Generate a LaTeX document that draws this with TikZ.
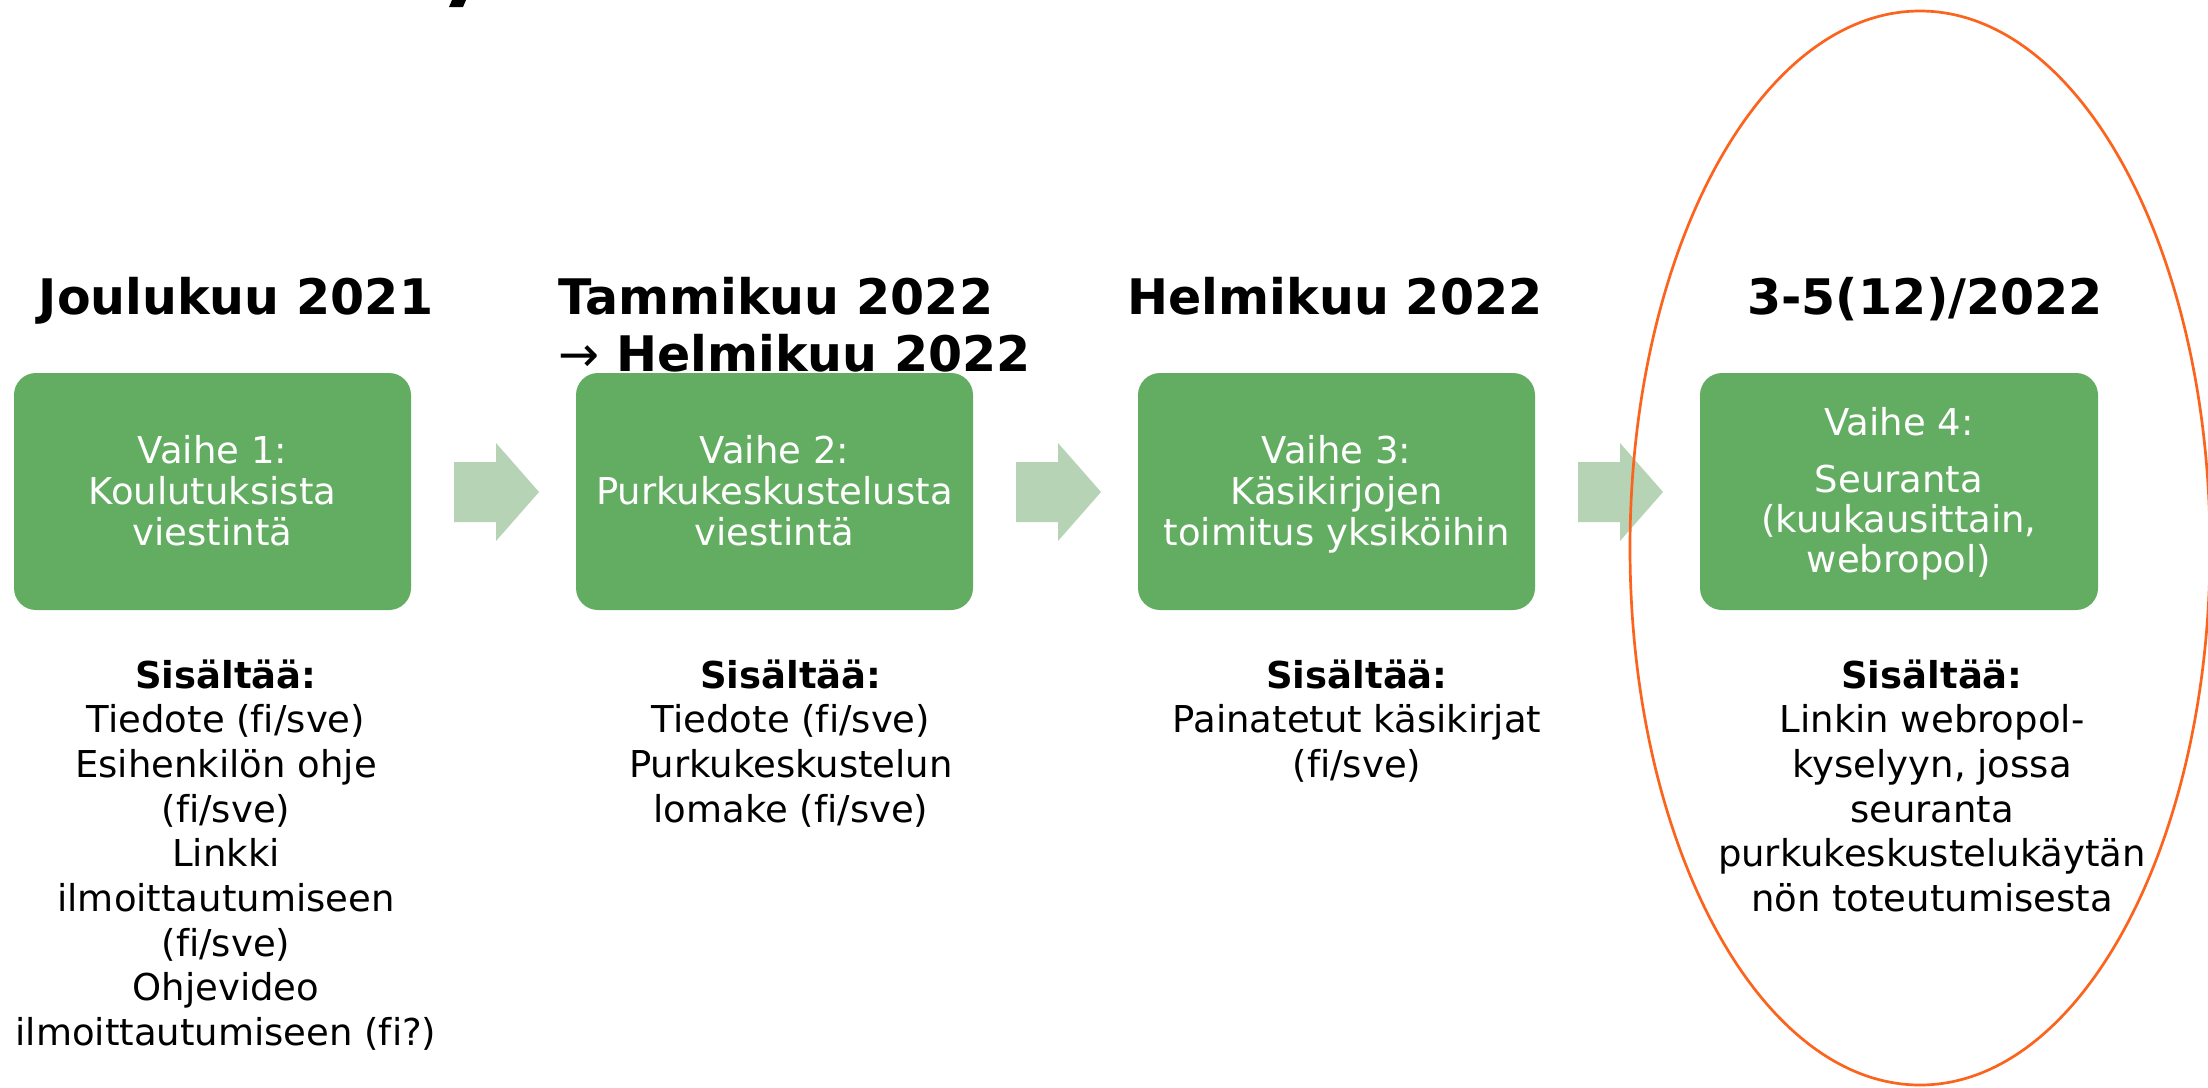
\documentclass[tikz,border=0pt]{standalone}
\usepackage{fontspec}
\setmainfont[Ligatures=NoCommon]{DejaVu Sans}
\definecolor{boxgreen}{RGB}{98,173,97}
\definecolor{arrowgreen}{RGB}{182,211,181}
\definecolor{ringorange}{RGB}{252,100,30}
\newcommand\textlines[6]{%
  \foreach \lineitem [count=\k] in {#6} {\node[#2] (#1-\k) at (#3, #4+#5*\k-#5) {\lineitem};}}
\newcommand\blockarrow[1]{%
  \fill[arrowgreen] (#1,462) -- (#1+42,462) -- (#1+42,443) -- (#1+85,492) -- (#1+42,541) -- (#1+42,522) -- (#1,522) -- cycle;}
\begin{document}
\begin{tikzpicture}[x=1pt,y=-1pt,
  stepbox/.style={fill=boxgreen, draw=none, rounded corners=22pt, minimum width=397pt, minimum height=237pt, inner sep=0pt},
  boxtext/.style={text=white, font=\fontsize{37}{44}\selectfont, inner sep=0pt, anchor=base},
  heading/.style={font=\bfseries\fontsize{49}{57}\selectfont, inner sep=0pt, anchor=base},
  bodytext/.style={font=\fontsize{37}{44}\selectfont, inner sep=0pt, anchor=base}]
\useasboundingbox (0,0) rectangle (2208,1087);
\fill[white] (0,0) rectangle (2208,1087);
\clip (0,0) rectangle (2208,1087);
% fragment of cropped title
\fill[black] (452,0) -- (466,0) -- (463,7) -- (449,7) -- cycle;
% headings
\node[heading] (h1) at (236,314) {Joulukuu 2021};
\node[heading, anchor=base west] (h2a) at (558,314) {Tammikuu 2022};
\node[heading, anchor=base west] (h2b) at (558,371) {{\mdseries →} Helmikuu 2022};
\node[heading] (h3) at (1335,314) {Helmikuu 2022};
\node[heading] (h4) at (1925,314) {3-5(12)/2022};
% boxes
\node[stepbox] (v1) at (212.5,491.5) {};
\node[stepbox] (v2) at (774.5,491.5) {};
\node[stepbox] (v3) at (1336.5,491.5) {};
\node[stepbox, minimum width=398pt] (v4) at (1899,491.5) {};
% arrows
\blockarrow{454}
\blockarrow{1016}
\blockarrow{1578}
% box texts
\textlines{t1}{boxtext}{212.5}{463}{41}{{Vaihe 1:},{Koulutuksista},{viestintä}}
\textlines{t2}{boxtext}{774.5}{463}{41}{{Vaihe 2:},{Purkukeskustelusta},{viestintä}}
\textlines{t3}{boxtext}{1336.5}{463}{41}{{Vaihe 3:},{Käsikirjojen},{toimitus yksiköihin}}
\node[boxtext] (t4-0) at (1899,435) {Vaihe 4:};
\textlines{t4}{boxtext}{1899}{492}{40}{{Seuranta},{(kuukausittain,},{webropol)}}
% lower texts
\textlines{c1}{bodytext}{226}{688}{44.7}{{\textbf{Sisältää:}},{Tiedote (fi/sve)},{Esihenkilön ohje},{(fi/sve)},{Linkki},{ilmoittautumiseen},{(fi/sve)},{Ohjevideo},{ilmoittautumiseen (fi?)}}
\textlines{c2}{bodytext}{791}{688}{44.7}{{\textbf{Sisältää:}},{Tiedote (fi/sve)},{Purkukeskustelun},{lomake (fi/sve)}}
\textlines{c3}{bodytext}{1357}{688}{44.7}{{\textbf{Sisältää:}},{Painatetut käsikirjat},{(fi/sve)}}
\textlines{c4}{bodytext}{1932}{688}{44.7}{{\textbf{Sisältää:}},{Linkin webropol-},{kyselyyn, jossa},{seuranta},{purkukeskustelukäytän},{nön toteutumisesta}}
% highlight ring
\draw[ringorange, line width=2.7pt] (1920,548) ellipse [x radius=290, y radius=537];
\end{tikzpicture}
\end{document}
